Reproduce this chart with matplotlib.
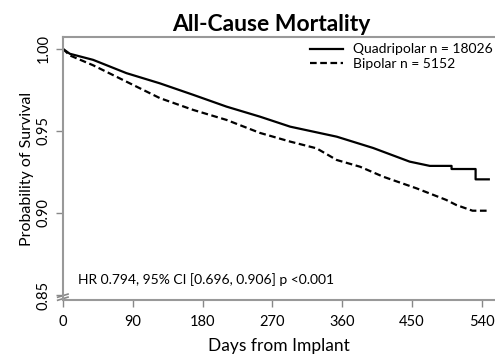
import numpy as np
import matplotlib.pyplot as plt

plt.rcParams['font.family'] = ['Lato', 'DejaVu Sans']

# Kaplan-Meier curves
quad_days = [0, 9, 39, 82, 125, 168, 211, 254, 293, 353, 400, 447, 473, 501, 501, 532, 532, 549]
quad_surv = [1.000, 0.997, 0.9933, 0.9852, 0.979, 0.972, 0.9648, 0.9587, 0.9526, 0.9465, 0.9396, 0.9313, 0.9287, 0.9287, 0.9268, 0.9268, 0.9205, 0.9205]

bip_days = [0, 9, 39, 82, 125, 168, 211, 254, 293, 327, 353, 383, 413, 456, 494, 507, 528, 549]
bip_surv = [1.000, 0.996, 0.990, 0.980, 0.970, 0.9628, 0.9567, 0.9488, 0.9435, 0.9394, 0.9323, 0.9282, 0.9221, 0.915, 0.908, 0.9049, 0.9014, 0.9014]

xticks = [0, 90, 180, 270, 360, 450, 540]
yticks = [0.85, 0.90, 0.95, 1.00]
ytick_labels = ['0.85', '0.90', '0.95', '1.00']

fig = plt.figure(figsize=(4.95, 3.58), dpi=100)
ax = fig.add_axes([0.127, 0.162, 0.873, 0.735])

ax.plot(quad_days, quad_surv, color='black', lw=1.6, ls='-', label='Quadripolar n = 18026')
ax.plot(bip_days, bip_surv, color='black', lw=1.6, ls=(0, (3, 1.6)), label='Bipolar n = 5152')

ax.set_xlim(0, 557)
ax.set_ylim(0.847, 1.0073)
ax.set_xticks(xticks)
ax.set_yticks(yticks)
ax.set_yticklabels(ytick_labels, rotation=90, va='center')
ax.tick_params(colors='#888888', labelcolor='black', labelsize=10.5, length=5, width=1)
ax.tick_params(axis='x', pad=6)
ax.tick_params(axis='y', pad=4)

for side in ['left', 'bottom', 'top']:
    ax.spines[side].set_color('#999999')
    ax.spines[side].set_linewidth(1.5)
ax.spines['right'].set_visible(False)

# axis break marks on the y axis
bx = [-0.012, 0.012]
ax.plot(bx, [0.0105, 0.0225], transform=ax.transAxes, color='#888888', lw=1.2, clip_on=False)
ax.plot(bx, [-0.001, 0.011], transform=ax.transAxes, color='#888888', lw=1.2, clip_on=False)

ax.set_title('All-Cause Mortality', fontsize=16.5, fontweight='bold', pad=4, x=0.482)
ax.set_xlabel('Days from Implant', fontsize=12.5, labelpad=6)
ax.set_ylabel('Probability of Survival', fontsize=11.5, labelpad=2)

ax.text(0.036, 0.055, 'HR 0.794, 95% CI [0.696, 0.906] p <0.001', transform=ax.transAxes,
        fontsize=10, va='bottom', ha='left')

ax.legend(loc='upper left', bbox_to_anchor=(0.572, 0.975), frameon=False, fontsize=10,
          handlelength=2.4, handletextpad=0.7, labelspacing=0.15, borderaxespad=0, borderpad=0)

fig.savefig('out.png', dpi=100)
